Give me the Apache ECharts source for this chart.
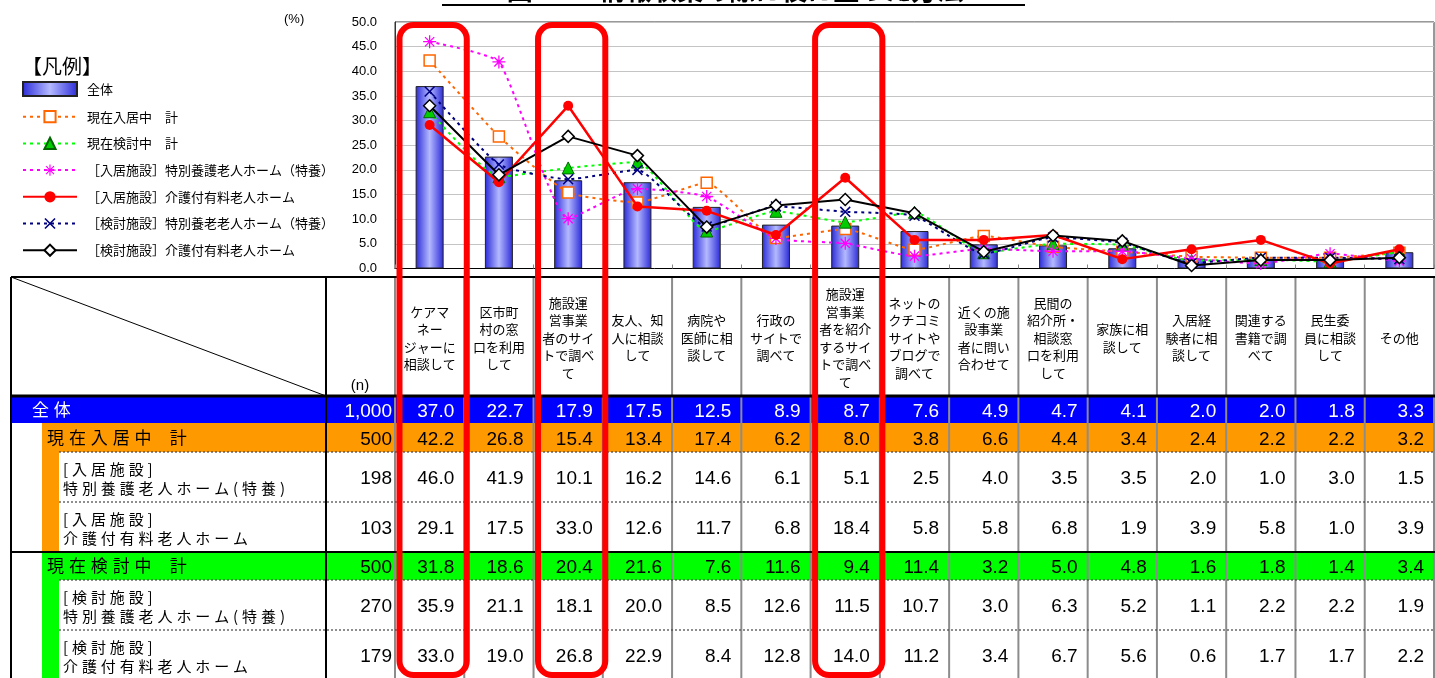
<!DOCTYPE html>
<html lang="ja">
<head>
<meta charset="utf-8">
<title>情報収集の際に役に立った方法</title>
<script src="https://cdn.jsdelivr.net/npm/echarts@6/dist/echarts.min.js"></script>
<style>
  html, body { margin: 0; padding: 0; background: #fff; }
  #chart { width: 1435px; height: 678px; }
</style>
</head>
<body>
<div id="chart"></div>
<script>
// 項目（表の見出しと同じ並び）
const categories = [
  'ケアマ\nネー\nジャーに\n相談して',
  '区市町\n村の窓\n口を利用\nして',
  '施設運\n営事業\n者のサイ\nトで調べ\nて',
  '友人、知\n人に相談\nして',
  '病院や\n医師に相\n談して',
  '行政の\nサイトで\n調べて',
  '施設運\n営事業\n者を紹介\nするサイ\nトで調べ\nて',
  'ネットの\nクチコミ\nサイトや\nブログで\n調べて',
  '近くの施\n設事業\n者に問い\n合わせて',
  '民間の\n紹介所・\n相談窓\n口を利用\nして',
  '家族に相\n談して',
  '入居経\n験者に相\n談して',
  '関連する\n書籍で調\nべて',
  '民生委\n員に相談\nして',
  'その他'
];

const seriesNames = [
  '全体',
  '現在入居中　計',
  '現在検討中　計',
  '［入居施設］特別養護老人ホーム（特養）',
  '［入居施設］介護付有料老人ホーム',
  '［検討施設］特別養老老人ホーム（特養）',
  '［検討施設］介護付有料老人ホーム'
];

// 回答率（%）
const valAll      = [37.0, 22.7, 17.9, 17.5, 12.5, 8.9, 8.7, 7.6, 4.9, 4.7, 4.1, 2.0, 2.0, 1.8, 3.3];
const valLiving   = [42.2, 26.8, 15.4, 13.4, 17.4, 6.2, 8.0, 3.8, 6.6, 4.4, 3.4, 2.4, 2.2, 2.2, 3.2];
const valLivTokuyo = [46.0, 41.9, 10.1, 16.2, 14.6, 6.1, 5.1, 2.5, 4.0, 3.5, 3.5, 2.0, 1.0, 3.0, 1.5];
const valLivKaigo  = [29.1, 17.5, 33.0, 12.6, 11.7, 6.8, 18.4, 5.8, 5.8, 6.8, 1.9, 3.9, 5.8, 1.0, 3.9];
const valConsider = [31.8, 18.6, 20.4, 21.6, 7.6, 11.6, 9.4, 11.4, 3.2, 5.0, 4.8, 1.6, 1.8, 1.4, 3.4];
const valConTokuyo = [35.9, 21.1, 18.1, 20.0, 8.5, 12.6, 11.5, 10.7, 3.0, 6.3, 5.2, 1.1, 2.2, 2.2, 1.9];
const valConKaigo  = [33.0, 19.0, 26.8, 22.9, 8.4, 12.8, 14.0, 11.2, 3.4, 6.7, 5.6, 0.6, 1.7, 1.7, 2.2];

// 表の行（n と見出し）
const nCounts = [1000, 500, 198, 103, 500, 270, 179];
const subLabels = [
  ['[入居施設]', '特別養護老人ホーム(特養)'],
  ['[入居施設]', '介護付有料老人ホーム'],
  ['[検討施設]', '特別養護老人ホーム(特養)'],
  ['[検討施設]', '介護付有料老人ホーム']
];
const highlightCols = [0, 2, 6];

const FONT = "'Liberation Sans', 'Noto Sans CJK JP', sans-serif";
const JP = "'Noto Sans CJK JP', sans-serif";

// レイアウト
const GX = 395, GW = 1039, CW = GW / 15;
const TL = 11, TOP = 277, HEAD_B = 396;
const rowTops = [396, 423, 452, 502, 552, 580, 630, 680];
const tableRows = [valAll, valLiving, valLivTokuyo, valLivKaigo, valConsider, valConTokuyo, valConKaigo];
const rowFill = ['#0000ff', '#ff9900', null, null, '#00ff00', null, null];

const g = [];
function rect(x, y, w, h, fill, z) {
  g.push({ type: 'rect', silent: true, z: z || 1, shape: { x, y, width: w, height: h }, style: { fill } });
}
function line(x1, y1, x2, y2, stroke, lw, dash) {
  g.push({ type: 'line', silent: true, z: 3, shape: { x1, y1, x2, y2 }, style: { stroke, lineWidth: lw, lineDash: dash || null } });
}
function text(x, y, t, st) {
  g.push({
    type: 'text', silent: true, z: 4, x, y,
    style: Object.assign({ text: t, fill: '#000', font: '13px ' + JP, align: 'left', textAlign: 'left', verticalAlign: 'middle', textVerticalAlign: 'middle' }, st)
  });
}
function spaced(str, x, y, size, full, half, fill) {
  let cx = x;
  for (const ch of str) {
    if (ch !== ' ') text(cx, y, ch, { font: size + 'px ' + JP, fill: fill || '#000' });
    cx += ch.charCodeAt(0) < 256 ? half : full;
  }
}

// 表の背景
rect(TL, rowTops[0], 1435 - TL, rowTops[1] - rowTops[0], rowFill[0]);
rect(42, rowTops[1], 1435 - 42, rowTops[2] - rowTops[1], rowFill[1]);
rect(42, rowTops[2], 17, rowTops[4] - rowTops[2], rowFill[1]);
rect(42, rowTops[4], 1435 - 42, rowTops[5] - rowTops[4], rowFill[4]);
rect(42, rowTops[5], 17, rowTops[7] - rowTops[5], rowFill[4]);

// 罫線
for (let k = 0; k <= 15; k++) {
  const x = GX + k * CW;
  line(x, TOP, x, 680, '#8c8c8c', 2);
}
[rowTops[2], rowTops[3], rowTops[5], rowTops[6]].forEach(y => line(59, y, 1435, y, '#444', 1.2, [2, 2]));
line(TL, TOP, 1435, TOP, '#000', 2);
line(TL, HEAD_B, 1435, HEAD_B, '#000', 3);
line(TL, rowTops[4], 1435, rowTops[4], '#000', 2);
line(TL, TOP, TL, 680, '#000', 2);
line(326, TOP, 326, 680, '#000', 2);
line(TL, TOP, 326, HEAD_B, '#000', 1);

// 見出し
categories.forEach((c, i) => {
  text(GX + (i + 0.5) * CW, 338, c, { font: '13px ' + JP, align: 'center', textAlign: 'center', lineHeight: 17.5 });
});
text(360, 386, '(n)', { font: '15px ' + FONT, align: 'center', textAlign: 'center' });

// 行見出し
spaced('全体', 32, 410, 17, 21.7, 8, '#fff');
spaced('現在入居中  計', 47, 438, 17, 21.9, 6.6);
spaced('現在検討中  計', 47, 566, 17, 21.9, 6.6);
[2, 3, 5, 6].forEach((r, j) => {
  spaced(subLabels[j][0], 63, rowTops[r] + 17, 15, 18.9, 9);
  spaced(subLabels[j][1], 63, rowTops[r] + 36, 15, 18.9, 9);
});

// 数値
tableRows.forEach((vals, r) => {
  const cy = (rowTops[r] + rowTops[r + 1]) / 2 + 2;
  const fill = r === 0 ? '#fff' : '#000';
  text(392, cy, nCounts[r].toLocaleString('en-US'), { font: '19px ' + FONT, fill, align: 'right', textAlign: 'right' });
  vals.forEach((v, i) => {
    text(GX + (i + 1) * CW - 10, cy, v.toFixed(1), { font: '19px ' + FONT, fill, align: 'right', textAlign: 'right' });
  });
});

// 枠・見出し類
text(284, 19, '(%)', { font: '13px ' + FONT });
text(22, 66, '【凡例】', { font: '20px ' + JP });
text(735, 3, '図2-2：情報収集の際に役に立った方法', { font: 'bold 26px ' + JP, align: 'center', textAlign: 'center', verticalAlign: 'bottom', textVerticalAlign: 'bottom' });
line(442, 5, 1025, 5, '#000', 2);

// 赤枠
highlightCols.forEach(i => {
  g.push({
    type: 'rect', silent: true, z: 100,
    shape: { x: GX + i * CW + 4.5, y: 25, width: CW - 2, height: 650, r: 14 },
    style: { fill: 'none', stroke: '#ff0000', lineWidth: 6 }
  });
});

const asterisk = 'path://M-1,-10L1,-10L1,10L-1,10Z M-10,-1L10,-1L10,1L-10,1Z M-7.8,-6.4L-6.4,-7.8L7.8,6.4L6.4,7.8Z M6.4,-7.8L7.8,-6.4L-6.4,7.8L-7.8,6.4Z';
const cross = 'path://M-10,-8L-8,-10L10,8L8,10Z M8,-10L10,-8L-8,10L-10,8Z';
const dots = [3, 4];

const chart = echarts.init(document.getElementById('chart'));
chart.setOption({
  animation: false,
  textStyle: { fontFamily: FONT },
  grid: { left: GX, right: 1, top: 22, bottom: 409.5, show: true, borderColor: '#333', borderWidth: 1, outerBoundsMode: 'none' },
  legend: {
    orient: 'vertical', left: 22, top: 81, padding: 0,
    itemWidth: 54, itemHeight: 14, itemGap: 12.7,
    selectedMode: false,
    textStyle: { fontSize: 13, color: '#000', fontFamily: JP, lineHeight: 14, padding: [0, 0, 0, 5] },
    data: seriesNames.map((n, i) => i === 0 ? { name: n, icon: 'rect' } : n)
  },
  xAxis: {
    type: 'category', data: categories,
    axisLabel: { show: false },
    axisLine: { lineStyle: { color: '#000' } },
    axisTick: { show: true, inside: true, length: 4, lineStyle: { color: '#888' } }
  },
  yAxis: {
    type: 'value', min: 0, max: 50, interval: 5,
    axisLabel: { formatter: v => v.toFixed(1), fontSize: 13, color: '#000', margin: 18 },
    axisLine: { show: true, lineStyle: { color: '#333' } },
    axisTick: { show: false },
    splitLine: { lineStyle: { color: '#c4c4c4', width: 1.2 } }
  },
  series: [
    {
      name: seriesNames[0], type: 'bar', data: valAll, barWidth: 28, z: 2,
      itemStyle: {
        color: new echarts.graphic.LinearGradient(0, 0, 1, 0, [
          { offset: 0, color: '#2a2ad8' },
          { offset: 0.5, color: '#b4b9ff' },
          { offset: 1, color: '#2a2ad8' }
        ]),
        borderColor: '#222', borderWidth: 1
      }
    },
    {
      name: seriesNames[1], type: 'line', data: valLiving, smooth: 0.15, z: 3,
      symbol: 'rect', symbolSize: 11,
      lineStyle: { color: '#ff6600', width: 2, type: dots },
      itemStyle: { color: '#fff', borderColor: '#ff6600', borderWidth: 1.5 }
    },
    {
      name: seriesNames[2], type: 'line', data: valConsider, smooth: 0.15, z: 3,
      symbol: 'triangle', symbolSize: 12,
      lineStyle: { color: '#00ff00', width: 2, type: dots },
      itemStyle: { color: '#00cc00', borderColor: '#006600', borderWidth: 1 }
    },
    {
      name: seriesNames[3], type: 'line', data: valLivTokuyo, smooth: 0.15, z: 3,
      symbol: asterisk, symbolSize: 13,
      lineStyle: { color: '#ff00ff', width: 2, type: dots },
      itemStyle: { color: '#ff00ff', borderWidth: 0 }
    },
    {
      name: seriesNames[4], type: 'line', data: valLivKaigo, z: 4,
      symbol: 'circle', symbolSize: 10,
      lineStyle: { color: '#ff0000', width: 2.5 },
      itemStyle: { color: '#ff0000' }
    },
    {
      name: seriesNames[5], type: 'line', data: valConTokuyo, smooth: 0.15, z: 3,
      symbol: cross, symbolSize: 11,
      lineStyle: { color: '#000080', width: 2, type: dots },
      itemStyle: { color: '#000080', borderWidth: 0 }
    },
    {
      name: seriesNames[6], type: 'line', data: valConKaigo, z: 5,
      symbol: 'diamond', symbolSize: 12,
      lineStyle: { color: '#000', width: 2 },
      itemStyle: { color: '#fff', borderColor: '#000', borderWidth: 1.5 }
    }
  ],
  graphic: g
});
</script>
</body>
</html>
